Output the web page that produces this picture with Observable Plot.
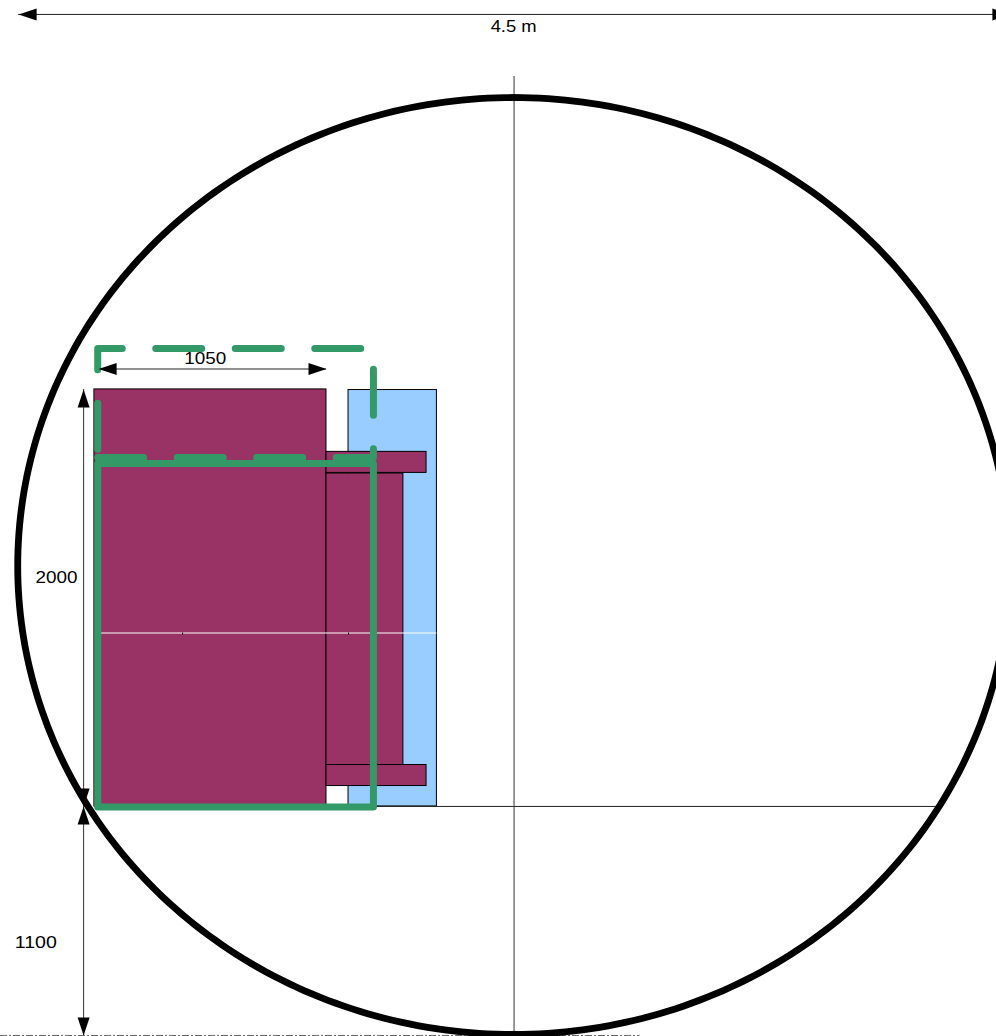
<!DOCTYPE html>
<html>
<head>
<meta charset="utf-8">
<script src="https://cdn.jsdelivr.net/npm/d3@7"></script>
<script src="https://cdn.jsdelivr.net/npm/@observablehq/plot@0.6"></script>
<style>
html,body{margin:0;padding:0;background:#fff;overflow:hidden}
svg{display:block}
</style>
</head>
<body>
<div id="chart"></div>
<script>
// All lengths in millimetres. x = 0 is the tunnel axis, y = 0 the platform level.
const tunnelDiameter = 4500;
const tunnelCentreX = -4;
const tunnelCentreY = 1155;
const floorY = -1100;
const blueRects = [{x1: -753, x2: -352, y1: 0, y2: 2000}];
const maroonRects = [
  {x1: -1906, x2: -853, y1: 0, y2: 2003},
  {x1: -853, x2: -504, y1: 197, y2: 1599},
  {x1: -853, x2: -399, y1: 1602, y2: 1703},
  {x1: -853, x2: -399, y1: 98, y2: 199}
];
const whiteLine = [{y: 833, x1: -1878, x2: -352}];
const smallTicks = [-1506, -753];
const solidGauge = [[-1891, 1647], [-640, 1647], [-640, -3], [-1891, -3], [-1891, 1647]];
const dashedGauge = [[-1891, 1676], [-640, 1676], [-640, 2200], [-1891, 2200], [-1891, 1676]];
const horizontalRules = [
  {y: 0, x1: -1906, x2: 1924},
  {y: 3804, x1: -2250, x2: 2250},
  {y: 2101, x1: -1887, x2: -853}
];
const verticalRules = [
  {x: -2, y1: -1095, y2: 3506},
  {x: -1955, y1: floorY, y2: 2003}
];
const arrowHeads = [
  {x: -2250, y: 3804, rotate: -90},
  {x: 2250, y: 3804, rotate: 90},
  {x: -1887, y: 2101, rotate: -90},
  {x: -853, y: 2101, rotate: 90},
  {x: -1955, y: 2003, rotate: 0},
  {x: -1955, y: 0, rotate: 180},
  {x: -1955, y: 0, rotate: 0},
  {x: -1955, y: floorY, rotate: 180}
];
const labels = [
  {text: "4.5 m", x: -4, y: 3747, len: 46},
  {text: "1050", x: -1403, y: 2150, len: 42},
  {text: "2000", x: -2078, y: 1100, len: 42},
  {text: "1100", x: -2172, y: -655, len: 42}
];
const floorLine = [{y: floorY, x1: -2332, x2: 570}];

const circleAngles = d3.range(0, 361, 1);
const circlePoints = circleAngles.map(a => [
  tunnelCentreX + tunnelDiameter / 2 * Math.cos(a * Math.PI / 180),
  tunnelCentreY + tunnelDiameter / 2 * Math.sin(a * Math.PI / 180)
]);

// long narrow arrow head: tip on the anchor point, pointing up before rotation
const arrowSymbol = {
  draw(ctx, size) {
    const s = Math.sqrt(size / Math.PI);
    ctx.moveTo(0, 0);
    ctx.lineTo(-s / 3, s);
    ctx.lineTo(s / 3, s);
    ctx.closePath();
  }
};

const green = "#339966", maroon = "#993366", blue = "#99CCFF";

const chart = Plot.plot({
  width: 996,
  height: 1036,
  margin: 0,
  x: {axis: null, domain: [-2332.1, 2187], range: [0, 996]},
  y: {axis: null, domain: [-1105, 3871], range: [1036, 0]},
  style: {background: "#fff", fontFamily: "'Liberation Sans', Arial, sans-serif"},
  marks: [
    Plot.rect(blueRects, {x1: "x1", x2: "x2", y1: "y1", y2: "y2", fill: blue, stroke: "#000", strokeWidth: 1}),
    Plot.rect(maroonRects, {x1: "x1", x2: "x2", y1: "y1", y2: "y2", fill: maroon, stroke: "#000", strokeWidth: 1}),
    Plot.ruleY(horizontalRules, {y: "y", x1: "x1", x2: "x2", stroke: "#222", strokeWidth: 1}),
    Plot.ruleX(verticalRules, {x: "x", y1: "y1", y2: "y2", stroke: "#333", strokeWidth: 1}),
    Plot.ruleY(whiteLine, {y: "y", x1: "x1", x2: "x2", stroke: "#fff", strokeWidth: 1.2}),
    Plot.ruleX(smallTicks, {y1: 823, y2: 833, stroke: "#000", strokeWidth: 1}),
    Plot.ruleY(floorLine, {y: "y", x1: "x1", x2: "x2", stroke: "#666", strokeWidth: 1, strokeDasharray: "7,2,2,2"}),
    Plot.line(solidGauge, {stroke: green, strokeWidth: 7, strokeLinecap: "round", strokeLinejoin: "round"}),
    Plot.line(dashedGauge, {stroke: green, strokeWidth: 7, strokeLinecap: "round", strokeLinejoin: "round", strokeDasharray: "46,33.5"}),
    Plot.line(circlePoints, {stroke: "#000", strokeWidth: 6.8}),
    Plot.dot(arrowHeads, {x: "x", y: "y", rotate: "rotate", symbol: arrowSymbol, r: 18, fill: "#000", stroke: "none"}),
    Plot.text(labels, {x: "x", y: "y", text: "text", fontSize: 16.5, fill: "#000", textAnchor: "middle"})
  ]
});
// labels are slightly wider than the font's natural set width in the reference
chart.querySelectorAll("text").forEach((t) => {
  const l = labels.find(d => d.text === t.textContent);
  if (l) { t.setAttribute("textLength", l.len); t.setAttribute("lengthAdjust", "spacingAndGlyphs"); }
});
document.getElementById("chart").appendChild(chart);
</script>
</body>
</html>
